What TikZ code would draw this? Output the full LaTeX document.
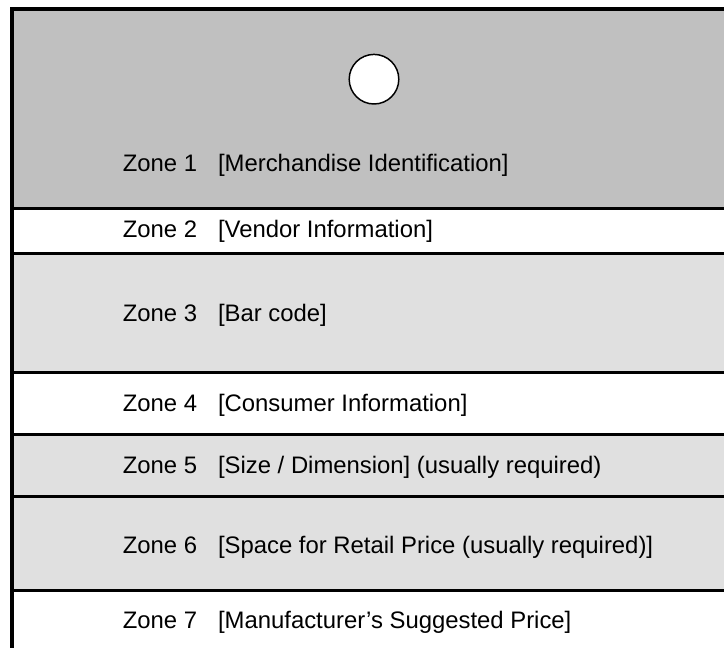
\documentclass[tikz,border=0pt]{standalone}
\usepackage{fontspec}
\setmainfont{Liberation Sans}
\definecolor{zonedark}{HTML}{C0C0C0}
\definecolor{zonelight}{HTML}{E0E0E0}
\begin{document}
\begin{tikzpicture}[x=0.75pt,y=-0.75pt,
  sepline/.style={line width=2.25pt,black},
  borderline/.style={line width=3pt,black,line join=miter},
  ztext/.style={anchor=base west,inner sep=0pt,font=\fontsize{17.9}{20}\selectfont,text=black},
  hole/.style={circle,draw=black,fill=white,line width=1.1pt,minimum size=37.2pt,inner sep=0pt}]
\useasboundingbox (0,0) rectangle (724,647);
\clip (0,0) rectangle (724,647);
% bands
\fill[zonedark]  (12,9)     rectangle (730,208.5);
\fill[white]     (12,208.5) rectangle (730,253.7);
\fill[zonelight] (12,253.7) rectangle (730,372);
\fill[white]     (12,372)   rectangle (730,434);
\fill[zonelight] (12,434)   rectangle (730,496.2);
\fill[zonelight] (12,496.2) rectangle (730,590);
\fill[white]     (12,590)   rectangle (730,650);
% separators
\coordinate (s1l) at (12,208.5); \coordinate (s1r) at (730,208.5);
\coordinate (s2l) at (12,253.7); \coordinate (s2r) at (730,253.7);
\coordinate (s3l) at (12,372);   \coordinate (s3r) at (730,372);
\coordinate (s4l) at (12,434);   \coordinate (s4r) at (730,434);
\coordinate (s5l) at (12,496.2); \coordinate (s5r) at (730,496.2);
\coordinate (s6l) at (12,590);   \coordinate (s6r) at (730,590);
\draw[sepline] (s1l) -- (s1r);
\draw[sepline] (s2l) -- (s2r);
\draw[sepline] (s3l) -- (s3r);
\draw[sepline] (s4l) -- (s4r);
\draw[sepline] (s5l) -- (s5r);
\draw[sepline] (s6l) -- (s6r);
% outer border (left and top)
\coordinate (bl) at (12,655);
\coordinate (tl) at (12,9);
\coordinate (tr) at (735,9);
\draw[borderline] (bl) -- (tl) -- (tr);
% hang hole
\node[hole] (hanghole) at (374,79.2) {};
% texts
\node[ztext] (z1) at (122.5,171)   {Zone 1};
\node[ztext] (d1) at (217.8,171)   {[Merchandise Identification]};
\node[ztext] (z2) at (122.5,237)   {Zone 2};
\node[ztext] (d2) at (217.8,237)   {[Vendor Information]};
\node[ztext] (z3) at (122.5,321.7) {Zone 3};
\node[ztext] (d3) at (217.8,321.7) {[Bar code]};
\node[ztext] (z4) at (122.5,411.7) {Zone 4};
\node[ztext] (d4) at (217.8,411.7) {[Consumer Information]};
\node[ztext] (z5) at (122.5,473.3) {Zone 5};
\node[ztext] (d5) at (217.8,473.3) {[Size / Dimension] (usually required)};
\node[ztext] (z6) at (122.5,553)   {Zone 6};
\node[ztext] (d6) at (217.8,553)   {[Space for Retail Price (usually required)]};
\node[ztext] (z7) at (122.5,628.3) {Zone 7};
\node[ztext] (d7) at (217.8,628.3) {[Manufacturer’s Suggested Price]};
\end{tikzpicture}
\end{document}
